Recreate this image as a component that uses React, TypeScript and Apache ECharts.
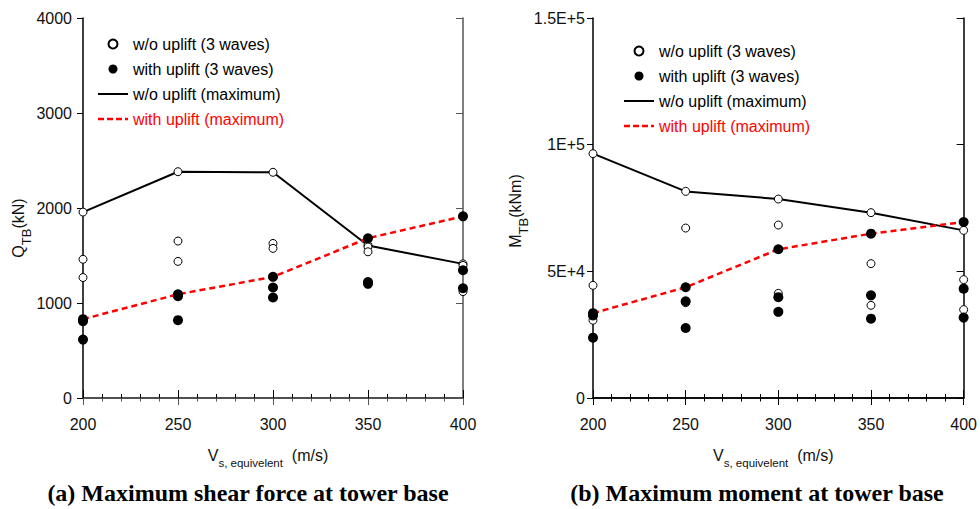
import React, { useEffect, useRef } from "react";
import * as echarts from "echarts";

// ---- data ----
const vsValues = [200, 250, 300, 350, 400];

// (a) shear force at tower base, kN
const shearWoMax = [1957, 2382, 2376, 1605, 1412];
const shearWithMax = [830, 1092, 1275, 1682, 1912];
const shearWoWaveA = [1957, 2382, 2376, 1609, 1412];
const shearWoWaveB = [1460, 1652, 1627, 1590, 1395];
const shearWoWaveC = [1268, 1438, 1575, 1539, 1120];
const shearWithWaveA = [830, 1092, 1275, 1682, 1912];
const shearWithWaveB = [808, 1072, 1163, 1220, 1345];
const shearWithWaveC = [615, 819, 1058, 1202, 1155];

// (b) moment at tower base, kNm
const momentWoMax = [96440, 81560, 78530, 73160, 66170];
const momentWithMax = [33500, 43700, 58700, 64870, 69450];
const momentWoWaveA = [96440, 81560, 78530, 73160, 66170];
const momentWoWaveB = [44470, 67080, 68270, 53030, 46720];
const momentWoWaveC = [30700, 37600, 41300, 36580, 34880];
const momentWithWaveA = [33500, 43700, 58700, 64870, 69450];
const momentWithWaveB = [32600, 38200, 39800, 40530, 43170];
const momentWithWaveC = [23830, 27620, 34000, 31330, 31730];

const legendNames = [
  "w/o uplift (3 waves)",
  "with uplift (3 waves)",
  "w/o uplift (maximum)",
  "with uplift (maximum)",
];

const FONT = "'Liberation Sans', Arial, sans-serif";

// legend icons for the two lines (solid bar and dashed bar)
const SOLID_ICON = "path://M0,0H30V2H0Z";
const DASH_ICON =
  "path://M0,0H6V2.5H0Z M9,0H15V2.5H9Z M18,0H24V2.5H18Z M27,0H30V2.5H27Z";

const zip = (ys: number[]) => vsValues.map((x, i) => [x, ys[i]]);
const zipMany = (arrs: number[][]) => arrs.flatMap((a) => zip(a));

function makeSeries(
  gi: number,
  woMax: number[],
  withMax: number[],
  woWaves: number[][],
  withWaves: number[][]
) {
  const ax = { xAxisIndex: gi * 2, yAxisIndex: gi * 2 };
  return [
    {
      ...ax,
      type: "line",
      name: legendNames[2],
      data: zip(woMax),
      symbol: "none",
      color: "#000",
      lineStyle: { color: "#000", width: 2 },
      z: 2,
    },
    {
      ...ax,
      type: "line",
      name: legendNames[3],
      data: zip(withMax),
      symbol: "none",
      color: "#ff0000",
      lineStyle: { color: "#ff0000", width: 2.5, type: [6, 4] },
      z: 2,
    },
    {
      ...ax,
      type: "scatter",
      name: legendNames[0],
      data: zipMany(woWaves),
      symbol: "circle",
      symbolSize: 8,
      itemStyle: { color: "#fff", borderColor: "#000", borderWidth: 1, opacity: 1 },
      z: 3,
    },
    {
      ...ax,
      type: "scatter",
      name: legendNames[1],
      data: zipMany(withWaves),
      symbol: "circle",
      symbolSize: 10,
      color: "#000",
      itemStyle: { color: "#000", opacity: 1 },
      z: 4,
    },
  ];
}

const subRich = {
  v: { fontSize: 16, color: "#111", fontFamily: FONT, verticalAlign: "top" },
  s: { fontSize: 13, color: "#111", fontFamily: FONT, verticalAlign: "bottom", padding: [9, 0, 0, 0] },
  x: { fontSize: 11.5, color: "#111", fontFamily: FONT, verticalAlign: "bottom", padding: [10, 0, 0, 0] },
};

function xAxes(gi: number, axisColor: string) {
  return [
    {
      gridIndex: gi,
      type: "value",
      position: "bottom",
      min: 200,
      max: 400,
      interval: 50,
      axisLine: { lineStyle: { color: "#000", width: 1.5 } },
      axisTick: { inside: true, length: 8, lineStyle: { color: "#000" } },
      minorTick: { show: true, splitNumber: 5, length: 4, lineStyle: { color: "#000" } },
      splitLine: { show: false },
      minorSplitLine: { show: false },
      axisLabel: { fontSize: 16, color: "#111", margin: 18, fontFamily: FONT },
      name: "{v|V}{x|s, equivelent}{v|  (m/s)}",
      nameLocation: "middle",
      nameGap: 49,
      nameTextStyle: { padding: [0, 10, 0, 0], rich: subRich },
    },
    {
      gridIndex: gi,
      type: "value",
      position: "top",
      min: 200,
      max: 400,
      interval: 50,
      axisLine: { lineStyle: { color: axisColor, width: 1.5 } },
      axisTick: { inside: true, length: 7, lineStyle: { color: axisColor } },
      minorTick: { show: true, splitNumber: 5, length: 3.5, lineStyle: { color: axisColor } },
      splitLine: { show: false },
      minorSplitLine: { show: false },
      axisLabel: { show: false },
    },
  ];
}

function yAxes(
  gi: number,
  max: number,
  interval: number,
  nameMain: string,
  nameUnit: string,
  namePadRight: number,
  labelMargin: number,
  fmt: (v: number) => string,
  axisColor: string
) {
  return [
    {
      gridIndex: gi,
      type: "value",
      position: "left",
      min: 0,
      max,
      interval,
      axisLine: { lineStyle: { color: "#000", width: 1.5 } },
      axisTick: { inside: false, length: 6, lineStyle: { color: "#000" } },
      splitLine: { show: false },
      axisLabel: { fontSize: 16, color: "#111", margin: labelMargin, fontFamily: FONT, formatter: fmt },
      name: `{v|${nameMain}}{s|TB}{v|${nameUnit}}`,
      nameLocation: "middle",
      nameGap: 48,
      nameTextStyle: { padding: [0, namePadRight, 0, 0], rich: subRich },
    },
    {
      gridIndex: gi,
      type: "value",
      position: "right",
      min: 0,
      max,
      interval,
      axisLine: { lineStyle: { color: axisColor, width: 1.5 } },
      axisTick: { inside: true, length: 7, lineStyle: { color: axisColor } },
      splitLine: { show: false },
      axisLabel: { show: false },
    },
  ];
}

const expFmt = (v: number) => (v === 0 ? "0" : v.toExponential().replace("e", "E"));

function legendFor(left: number, top: number) {
  return {
    left,
    top,
    orient: "vertical",
    itemWidth: 30,
    itemHeight: 9,
    itemGap: 9,
    padding: 0,
    selectedMode: false,
    textStyle: { fontSize: 16, color: "#000", fontFamily: FONT },
    data: [
      { name: legendNames[0] },
      { name: legendNames[1] },
      { name: legendNames[2], icon: SOLID_ICON },
      { name: legendNames[3], icon: DASH_ICON, textStyle: { color: "#ff0000" } },
    ],
  };
}

export default function App() {
  const ref = useRef<HTMLDivElement>(null);
  useEffect(() => {
    document.body.style.margin = "0";
    const chart = echarts.init(ref.current!, undefined, { renderer: "svg" });
    const titleStyle = {
      fontFamily: "'Liberation Serif', serif",
      fontWeight: "bold",
      fontSize: 24,
      color: "#000",
    };
    const option = {
      animation: false,
      backgroundColor: "#fff",
      textStyle: { fontFamily: FONT },
      title: [
        {
          text: "(a) Maximum shear force at tower base",
          left: 248,
          top: 481,
          textAlign: "center",
          padding: 0,
          textStyle: titleStyle,
        },
        {
          text: "(b) Maximum moment at tower base",
          left: 757,
          top: 481,
          textAlign: "center",
          padding: 0,
          textStyle: titleStyle,
        },
      ],
      legend: [legendFor(98, 36), legendFor(624, 43)],
      grid: [
        { left: 83, top: 18, width: 380, height: 380 },
        { left: 593, top: 18, width: 376, height: 380 },
      ],
      xAxis: [...xAxes(0, "#555"), ...xAxes(1, "#000")],
      yAxis: [
        ...yAxes(0, 4000, 1000, "Q", "(kN)", 40, 11, (v: number) => String(v), "#555"),
        ...yAxes(1, 150000, 50000, "M", "(kNm)", 6, 8, expFmt, "#000"),
      ],
      series: [
        ...makeSeries(
          0,
          shearWoMax,
          shearWithMax,
          [shearWoWaveA, shearWoWaveB, shearWoWaveC],
          [shearWithWaveA, shearWithWaveB, shearWithWaveC]
        ),
        ...makeSeries(
          1,
          momentWoMax,
          momentWithMax,
          [momentWoWaveA, momentWoWaveB, momentWoWaveC],
          [momentWithWaveA, momentWithWaveB, momentWithWaveC]
        ),
      ],
    };
    chart.setOption(option as any);
    return () => chart.dispose();
  }, []);
  return <div ref={ref} style={{ width: 980, height: 509 }} />;
}
